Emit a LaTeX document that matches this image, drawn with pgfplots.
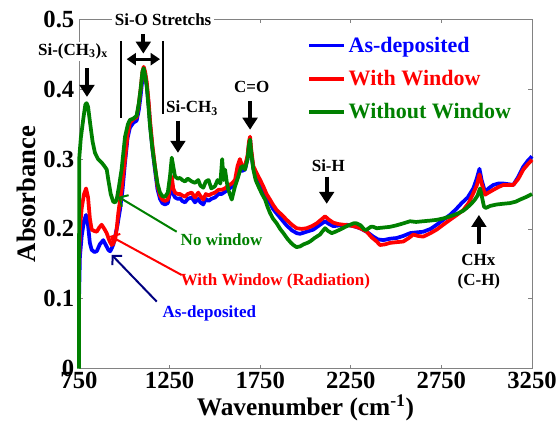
\documentclass[border=0pt]{standalone}
\usepackage{pgfplots}
\pgfplotsset{compat=1.18}
\usepackage{fontspec}
\setmainfont{Liberation Serif}
\usetikzlibrary{arrows.meta}
\definecolor{cblue}{RGB}{0,0,255}
\definecolor{cred}{RGB}{255,0,0}
\definecolor{cgreen}{RGB}{0,128,0}
\definecolor{cnavy}{RGB}{0,0,128}
\definecolor{axgray}{RGB}{130,130,130}
\begin{document}
\begin{tikzpicture}
\path[use as bounding box] (-59.25pt,-41.5pt) rectangle (360pt,276.5pt);
\begin{axis}[
  at={(0,0)}, anchor=south west,
  scale only axis, width=339.75pt, height=262pt,
  xmin=750, xmax=3250, ymin=0, ymax=0.5,
  xtick={750,1250,1750,2250,2750,3250},
  ytick={0,0.1,0.2,0.3,0.4,0.5},
  /pgf/number format/assume math mode=true,
  /pgf/number format/1000 sep={},
  ticklabel style={font=\fontsize{18.5}{18.5}\selectfont\bfseries},
  xticklabel style={yshift=1pt},
  xlabel={Wavenumber (cm\textsuperscript{-1})},
  ylabel={Absorbance},
  xlabel style={font=\fontsize{19}{19}\selectfont\bfseries, yshift=2pt},
  ylabel style={font=\fontsize{20}{20}\selectfont\bfseries, yshift=-1pt},
  axis line style={axgray, line width=0.6pt},
  tick style={axgray, line width=0.6pt},
  major tick length=3pt,
  clip=false,
  legend style={at={(axis cs:2010,0.479)}, anchor=north west, draw=none, fill=none,
    font=\fontsize{16.5}{16.5}\selectfont\bfseries, row sep=8pt, inner sep=0pt},
  legend cell align=left,
  legend image code/.code={\draw[#1] (0pt,0pt) -- (26pt,0pt);},
]
\addplot[cblue, line width=2.8pt, line join=round] coordinates {
(750,0.098) (755,0.16) (765,0.19) (778,0.212) (789,0.220) (800,0.205) (810,0.18) (820,0.170) (835,0.167) (848,0.168) (865,0.178) (884,0.184) (898,0.177) (912,0.170) (922,0.168) (930,0.172) (940,0.178) (949,0.189) (962,0.205) (976,0.227) (990,0.255) (1004,0.295) (1018,0.33) (1031,0.345) (1050,0.352) (1068,0.355) (1080,0.37) (1090,0.39) (1100,0.415) (1107,0.425) (1115,0.42) (1124,0.405) (1135,0.375) (1142,0.35) (1155,0.315) (1169,0.285) (1183,0.257) (1197,0.243) (1210,0.237) (1225,0.235) (1240,0.237) (1252,0.252) (1262,0.268) (1270,0.25) (1280,0.245) (1295,0.243) (1307,0.244) (1320,0.24) (1335,0.238) (1350,0.243) (1372,0.245) (1390,0.238) (1408,0.243) (1420,0.238) (1436,0.235) (1450,0.243) (1465,0.24) (1480,0.243) (1500,0.245) (1520,0.25) (1537,0.25) (1555,0.253) (1574,0.257) (1593,0.26) (1611,0.265) (1625,0.28) (1638,0.29) (1650,0.283) (1666,0.285) (1680,0.3) (1688,0.32) (1694,0.328) (1700,0.31) (1712,0.287) (1730,0.276) (1750,0.266) (1767,0.257) (1785,0.246) (1804,0.237) (1820,0.229) (1841,0.222) (1870,0.213) (1896,0.205) (1925,0.198) (1951,0.194) (1970,0.193) (2006,0.196) (2043,0.199) (2075,0.205) (2108,0.211) (2130,0.207) (2153,0.204) (2190,0.205) (2228,0.206) (2265,0.204) (2301,0.201) (2338,0.196) (2374,0.189) (2400,0.185) (2430,0.184) (2466,0.186) (2503,0.187) (2540,0.19) (2577,0.194) (2610,0.195) (2650,0.196) (2690,0.2) (2724,0.206) (2760,0.213) (2797,0.220) (2830,0.228) (2862,0.237) (2895,0.245) (2926,0.258) (2945,0.272) (2960,0.286) (2972,0.27) (2991,0.253) (3010,0.258) (3037,0.263) (3065,0.265) (3092,0.265) (3120,0.264) (3147,0.263) (3175,0.275) (3202,0.289) (3225,0.297) (3250,0.304)
};
\addlegendentry{\textcolor{cblue}{As-deposited}}
\addplot[cred, line width=2.8pt, line join=round] coordinates {
(750,0.14) (755,0.2) (765,0.23) (778,0.25) (789,0.258) (800,0.245) (810,0.215) (820,0.199) (835,0.197) (848,0.196) (862,0.202) (875,0.206) (890,0.2) (903,0.194) (918,0.183) (930,0.177) (940,0.18) (949,0.184) (958,0.2) (967,0.223) (976,0.24) (985,0.256) (995,0.28) (1004,0.30) (1018,0.335) (1031,0.352) (1050,0.357) (1068,0.36) (1080,0.378) (1090,0.40) (1100,0.425) (1107,0.432) (1115,0.425) (1124,0.41) (1135,0.38) (1142,0.355) (1155,0.32) (1169,0.29) (1183,0.262) (1197,0.248) (1210,0.242) (1225,0.24) (1240,0.242) (1252,0.26) (1262,0.275) (1270,0.258) (1280,0.252) (1295,0.25) (1307,0.25) (1320,0.248) (1335,0.246) (1350,0.25) (1372,0.252) (1390,0.245) (1408,0.252) (1420,0.247) (1436,0.242) (1450,0.25) (1465,0.248) (1480,0.25) (1500,0.252) (1520,0.256) (1537,0.256) (1555,0.258) (1574,0.262) (1593,0.265) (1611,0.27) (1625,0.29) (1638,0.300) (1650,0.29) (1666,0.29) (1680,0.305) (1688,0.325) (1694,0.332) (1700,0.315) (1712,0.29) (1730,0.280) (1750,0.27) (1767,0.261) (1785,0.25) (1804,0.242) (1820,0.235) (1841,0.227) (1870,0.22) (1896,0.213) (1925,0.206) (1951,0.201) (1980,0.200) (2006,0.201) (2035,0.204) (2062,0.208) (2085,0.213) (2108,0.218) (2130,0.213) (2153,0.209) (2180,0.207) (2209,0.206) (2245,0.205) (2282,0.203) (2310,0.2) (2338,0.196) (2365,0.188) (2393,0.182) (2411,0.177) (2440,0.178) (2466,0.180) (2500,0.181) (2540,0.182) (2570,0.187) (2595,0.192) (2620,0.19) (2650,0.189) (2690,0.194) (2724,0.199) (2760,0.206) (2797,0.213) (2835,0.22) (2871,0.227) (2900,0.237) (2926,0.251) (2945,0.262) (2960,0.278) (2972,0.265) (2991,0.249) (3010,0.252) (3037,0.256) (3065,0.26) (3092,0.263) (3120,0.263) (3147,0.263) (3175,0.272) (3202,0.285) (3225,0.292) (3250,0.299)
};
\addlegendentry{\textcolor{cred}{With Window}}
\addplot[cgreen, line width=2.8pt, line join=round] coordinates {
(750,0) (751,0.30) (760,0.33) (775,0.36) (785,0.378) (792,0.380) (800,0.375) (812,0.35) (825,0.325) (838,0.309) (855,0.30) (875,0.295) (890,0.29) (903,0.285) (912,0.27) (925,0.25) (939,0.239) (950,0.238) (958,0.242) (970,0.26) (985,0.285) (1004,0.332) (1020,0.350) (1031,0.356) (1050,0.358) (1068,0.362) (1080,0.38) (1090,0.40) (1100,0.425) (1107,0.430) (1115,0.42) (1124,0.404) (1135,0.37) (1142,0.347) (1155,0.315) (1169,0.289) (1183,0.265) (1197,0.252) (1210,0.247) (1225,0.246) (1240,0.252) (1252,0.275) (1262,0.302) (1270,0.29) (1280,0.275) (1295,0.272) (1307,0.273) (1320,0.27) (1335,0.268) (1350,0.272) (1372,0.268) (1390,0.266) (1408,0.270) (1420,0.262) (1436,0.259) (1450,0.268) (1465,0.27) (1480,0.258) (1500,0.261) (1515,0.27) (1530,0.265) (1540,0.30) (1548,0.27) (1556,0.285) (1565,0.268) (1574,0.256) (1593,0.242) (1611,0.261) (1629,0.275) (1640,0.285) (1648,0.289) (1658,0.29) (1666,0.285) (1680,0.30) (1688,0.32) (1694,0.328) (1700,0.31) (1712,0.285) (1725,0.27) (1740,0.261) (1760,0.25) (1777,0.242) (1790,0.232) (1804,0.223) (1820,0.215) (1841,0.208) (1860,0.200) (1878,0.194) (1900,0.186) (1920,0.180) (1933,0.177) (1950,0.174) (1970,0.175) (1990,0.178) (2010,0.180) (2025,0.182) (2050,0.187) (2080,0.192) (2095,0.197) (2108,0.201) (2125,0.197) (2145,0.194) (2165,0.196) (2190,0.199) (2220,0.203) (2246,0.206) (2265,0.208) (2282,0.208) (2305,0.205) (2325,0.199) (2338,0.199) (2360,0.203) (2374,0.203) (2393,0.201) (2430,0.202) (2466,0.203) (2500,0.205) (2540,0.208) (2577,0.211) (2610,0.210) (2650,0.211) (2690,0.212) (2724,0.213) (2760,0.215) (2797,0.218) (2840,0.222) (2870,0.226) (2890,0.230) (2915,0.236) (2935,0.242) (2950,0.248) (2963,0.258) (2972,0.248) (2985,0.232) (2995,0.230) (3020,0.233) (3055,0.235) (3090,0.236) (3129,0.237) (3160,0.239) (3184,0.242) (3220,0.246) (3250,0.250)
};
\addlegendentry{\textcolor{cgreen}{Without Window}}

% annotations
\tikzset{ann/.style={font=\fontsize{12.75}{12.75}\selectfont\bfseries, inner sep=1pt},
  bigarrow/.style={line width=3.2pt, -{Triangle[width=11pt,length=9pt]}},
  pointer/.style={line width=1.5pt, -{Straight Barb[length=5pt,width=10pt]}}}
\node[ann, fill=white] at (axis cs:717,0.454) {Si-(CH\textsubscript{3})\textsubscript{x}};
\draw[bigarrow] (axis cs:794,0.430) -- (axis cs:794,0.389);
\node[ann, fill=white, inner xsep=2pt] at (axis cs:1214,0.5) {Si-O Stretchs};
\draw[bigarrow] (axis cs:1105,0.479) -- (axis cs:1105,0.451);
\draw[line width=2.4pt, {Triangle[width=9pt,length=7pt]}-{Triangle[width=9pt,length=7pt]}] (axis cs:1013,0.443) -- (axis cs:1197,0.443);
\draw[line width=1.5pt] (axis cs:982,0.469) -- (axis cs:982,0.359);
\draw[line width=1.5pt] (axis cs:1212,0.469) -- (axis cs:1212,0.365);
\node[ann] at (axis cs:1374,0.373) {Si-CH\textsubscript{3}};
\draw[bigarrow] (axis cs:1296,0.355) -- (axis cs:1296,0.309);
\node[ann] at (axis cs:1703,0.403) {C=O};
\draw[bigarrow] (axis cs:1694,0.383) -- (axis cs:1694,0.342);
\node[ann] at (axis cs:2126,0.291) {Si-H};
\draw[bigarrow] (axis cs:2117,0.275) -- (axis cs:2117,0.236);
\node[ann] at (axis cs:2954,0.156) {CHx};
\node[ann] at (axis cs:2957,0.125) {(C-H)};
\draw[bigarrow] (axis cs:2957,0.178) -- (axis cs:2957,0.220);
\node[ann, text=cgreen] at (axis cs:1537,0.185) {No window};
\draw[pointer, cgreen] (axis cs:1289,0.196) -- (axis cs:967,0.246);
\node[ann, text=cred] at (axis cs:1834,0.125) {With Window (Radiation)};
\draw[pointer, cred] (axis cs:1317,0.134) -- (axis cs:921,0.190);
\node[ann, text=cblue] at (axis cs:1469,0.079) {As-deposited};
\draw[pointer, cnavy] (axis cs:1179,0.096) -- (axis cs:930,0.163);
\end{axis}
\end{tikzpicture}
\end{document}
